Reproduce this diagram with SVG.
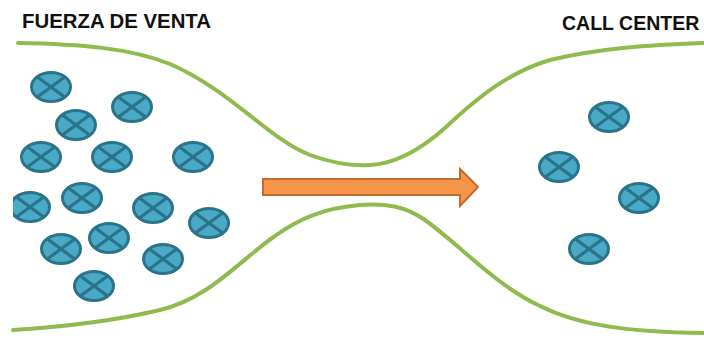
<svg xmlns="http://www.w3.org/2000/svg" xmlns:xlink="http://www.w3.org/1999/xlink" width="704" height="338" viewBox="0 0 704 338">
  <style>
    .title { font-family: "Liberation Sans", Arial, sans-serif; font-weight: bold; font-size: 21px; fill: #111111; }
    .wall { fill: none; stroke: #8fbb4e; stroke-width: 4; stroke-linecap: round; }
    .disc { fill: #4aa9c6; stroke: #2a7489; stroke-width: 3; }
    .cross { stroke: #2a7489; stroke-width: 3.2; stroke-linecap: butt; }
    .flow { fill: #f7954a; stroke: #c46a2c; stroke-width: 2; stroke-linejoin: miter; }
  </style>
  <defs>
    <!-- one customer token: an ellipse with an X -->
    <g id="token">
      <ellipse class="disc" cx="0" cy="0" rx="19.5" ry="14.5"/>
      <line class="cross" x1="-14" y1="-10.3" x2="14" y2="10.3"/>
      <line class="cross" x1="-14" y1="10.3" x2="14" y2="-10.3"/>
    </g>
    <clipPath id="leftEdge">
      <rect x="13" y="0" width="691" height="338"/>
    </clipPath>
  </defs>

  <rect x="0" y="0" width="704" height="338" fill="#ffffff"/>

  <!-- headings -->
  <text class="title" x="22" y="28" textLength="189" lengthAdjust="spacingAndGlyphs">FUERZA DE VENTA</text>
  <text class="title" x="562" y="30" style="font-size:19.5px">CALL CENTER</text>

  <!-- funnel walls -->
  <g id="walls">
    <path class="wall" d="M18,43 C80,44 130,48 170,64 C230,90 270,140 310,155 C335,164 355,166 370,165 C395,164 420,150 445,128 C480,95 510,72 550,60 C600,48 650,45 703,43"/>
    <path class="wall" d="M13,330 C60,327 110,322 160,310 C210,298 240,260 275,236 C300,218 325,208 360,205 C385,203 405,206 425,220 C460,245 495,285 540,306 C580,326 630,332 703,333"/>
  </g>

  <!-- flow arrow -->
  <g id="connectors">
    <path class="flow" d="M263,179 L460,179 L460,169 L478,187 L460,206 L460,195 L263,195 Z"/>
  </g>

  <!-- sales-force tokens -->
  <g id="sales-1"><use xlink:href="#token" x="51" y="87"/></g>
  <g id="sales-2"><use xlink:href="#token" x="132" y="107"/></g>
  <g id="sales-3"><use xlink:href="#token" x="76" y="125"/></g>
  <g id="sales-4"><use xlink:href="#token" x="41" y="157"/></g>
  <g id="sales-5"><use xlink:href="#token" x="112" y="157"/></g>
  <g id="sales-6"><use xlink:href="#token" x="193" y="157"/></g>
  <g id="sales-7" clip-path="url(#leftEdge)"><use xlink:href="#token" x="30" y="207"/></g>
  <g id="sales-8"><use xlink:href="#token" x="82" y="198"/></g>
  <g id="sales-9"><use xlink:href="#token" x="153" y="208"/></g>
  <g id="sales-10"><use xlink:href="#token" x="209" y="223"/></g>
  <g id="sales-11"><use xlink:href="#token" x="61" y="249"/></g>
  <g id="sales-12"><use xlink:href="#token" x="109" y="238"/></g>
  <g id="sales-13"><use xlink:href="#token" x="163" y="259"/></g>
  <g id="sales-14"><use xlink:href="#token" x="94" y="286"/></g>

  <!-- call-center tokens -->
  <g id="call-1"><use xlink:href="#token" x="609" y="117"/></g>
  <g id="call-2"><use xlink:href="#token" x="559" y="167"/></g>
  <g id="call-3"><use xlink:href="#token" x="639" y="198"/></g>
  <g id="call-4"><use xlink:href="#token" x="589" y="249"/></g>
</svg>
